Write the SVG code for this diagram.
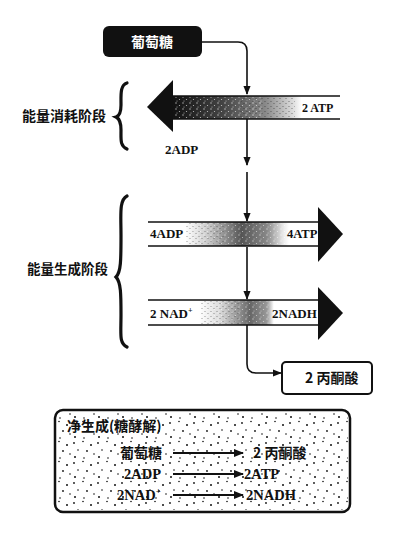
<svg xmlns="http://www.w3.org/2000/svg" width="408" height="535" viewBox="0 0 408 535">
<defs>
<style>
.cn{font-family:"Noto Sans CJK SC","Noto Sans",sans-serif;font-weight:bold;fill:#111}
.lt{font-family:"Liberation Serif","DejaVu Serif",serif;font-weight:bold;fill:#111}
.conn{fill:none;stroke:#111;stroke-width:1.6}
.sconn{fill:none;stroke:#111;stroke-width:2}
.brace{fill:none;stroke:#111;stroke-width:3.2;stroke-linecap:round}
.edge{stroke:#111;stroke-width:1.5}
</style>
<marker id="ah2" viewBox="0 0 10 10" refX="9" refY="5" markerWidth="9" markerHeight="9" orient="auto" markerUnits="userSpaceOnUse">
<path d="M0,1 L10,5 L0,9 Z" fill="#111"/>
</marker>
<marker id="ah3" viewBox="0 0 10 10" refX="9" refY="5" markerWidth="12" markerHeight="10" orient="auto" markerUnits="userSpaceOnUse">
<path d="M0,1 L10,5 L0,9 Z" fill="#111"/>
</marker>
<linearGradient id="g1" x1="173" y1="0" x2="340" y2="0" gradientUnits="userSpaceOnUse">
<stop offset="0" stop-color="#111"/>
<stop offset="0.3" stop-color="#444"/>
<stop offset="0.55" stop-color="#888"/>
<stop offset="0.72" stop-color="#ddd"/>
<stop offset="0.77" stop-color="#fff"/>
<stop offset="1" stop-color="#fff"/>
</linearGradient>
<linearGradient id="g2" x1="148" y1="0" x2="318" y2="0" gradientUnits="userSpaceOnUse">
<stop offset="0" stop-color="#fff"/>
<stop offset="0.22" stop-color="#fff"/>
<stop offset="0.35" stop-color="#ccc"/>
<stop offset="0.55" stop-color="#555"/>
<stop offset="0.7" stop-color="#888"/>
<stop offset="0.8" stop-color="#eee"/>
<stop offset="0.83" stop-color="#fff"/>
<stop offset="1" stop-color="#fff"/>
</linearGradient>
<linearGradient id="g3" x1="148" y1="0" x2="318" y2="0" gradientUnits="userSpaceOnUse">
<stop offset="0" stop-color="#fff"/>
<stop offset="0.3" stop-color="#fff"/>
<stop offset="0.42" stop-color="#ddd"/>
<stop offset="0.6" stop-color="#666"/>
<stop offset="0.7" stop-color="#999"/>
<stop offset="0.74" stop-color="#fff"/>
<stop offset="1" stop-color="#fff"/>
</linearGradient>
<pattern id="ws" width="7" height="6" patternUnits="userSpaceOnUse">
<circle cx="1" cy="1" r="0.7" fill="#fff"/>
<circle cx="4.5" cy="3.5" r="0.6" fill="#fff"/>
<circle cx="2" cy="5" r="0.5" fill="#fff"/>
</pattern>
<pattern id="bs" width="6" height="5" patternUnits="userSpaceOnUse">
<circle cx="1" cy="1.5" r="0.6" fill="#222"/>
<circle cx="4" cy="3.5" r="0.6" fill="#222"/>
</pattern>
<pattern id="dots" width="24" height="20" patternUnits="userSpaceOnUse">
<circle cx="2" cy="3" r="0.9" fill="#111"/>
<circle cx="11" cy="1.5" r="0.8" fill="#111"/>
<circle cx="19" cy="5" r="1" fill="#111"/>
<circle cx="6" cy="10" r="0.8" fill="#111"/>
<circle cx="15" cy="11" r="0.9" fill="#111"/>
<circle cx="22" cy="14" r="0.8" fill="#111"/>
<circle cx="3" cy="17" r="1" fill="#111"/>
<circle cx="12" cy="18" r="0.8" fill="#111"/>
</pattern>
</defs>
<rect width="408" height="535" fill="#fff"/>

<g id="connectors">
<path class="conn" d="M202,42 L238,42 Q247,42 247,51 L247,94" marker-end="url(#ah2)"/>
<path class="conn" d="M247,119 L247,165" marker-end="url(#ah2)"/>
<path class="conn" d="M247,172 L247,221" marker-end="url(#ah2)"/>
<path class="conn" d="M247,247 L247,299" marker-end="url(#ah2)"/>
<path class="conn" d="M247,325 L247,364 Q247,373 256,373 L281,373" marker-end="url(#ah2)"/>
</g>

<g id="glucose">
<rect x="103" y="26" width="99" height="31" rx="6" fill="#111"/>
<text class="cn" x="152" y="47" font-size="14" text-anchor="middle" style="fill:#fff">葡萄糖</text>
</g>

<g id="stage1-label">
<text class="cn" x="22" y="121" font-size="14">能量消耗阶段</text>
<path class="brace" d="M127,83 C120,85 121,95 121,105 C121,112 120,116 116,117 C120,119 121,123 121,130 C121,140 120,146 127,149"/>
</g>

<g id="stage2-label">
<text class="cn" x="27" y="274" font-size="13.5">能量生成阶段</text>
<path class="brace" d="M127,196 C119,200 121,215 121,235 C121,260 121,272 116,277 C121,282 121,295 121,315 C121,335 119,343 127,347"/>
</g>

<g id="arrow-consume">
<rect x="172" y="96" width="168" height="23" fill="url(#g1)"/>
<rect x="172" y="97" width="90" height="21" fill="url(#ws)" opacity="0.7"/>
<rect x="240" y="97" width="55" height="21" fill="url(#bs)" opacity="0.6"/>
<path d="M147,107 L173,80 L173,132 Z" fill="#111"/>
<line class="edge" x1="172" y1="96" x2="340" y2="96"/>
<line class="edge" x1="172" y1="119" x2="340" y2="119"/>
<text class="lt" x="302" y="112" font-size="12">2 ATP</text>
<text class="lt" x="165" y="154" font-size="13">2ADP</text>
</g>

<g id="arrow-atp">
<rect x="148" y="222" width="170" height="24" fill="url(#g2)"/>
<rect x="185" y="223" width="100" height="22" fill="url(#ws)" opacity="0.6"/>
<rect x="185" y="223" width="40" height="22" fill="url(#bs)" opacity="0.5"/>
<path d="M318,207 L343,234 L318,262 Z" fill="#111"/>
<line class="edge" x1="148" y1="222" x2="318" y2="222"/>
<line class="edge" x1="148" y1="246" x2="318" y2="246"/>
<text class="lt" x="150" y="238" font-size="13">4ADP</text>
<text class="lt" x="287" y="238" font-size="12.5">4ATP</text>
</g>

<g id="arrow-nadh">
<rect x="148" y="300" width="170" height="25" fill="url(#g3)"/>
<rect x="200" y="301" width="70" height="23" fill="url(#ws)" opacity="0.6"/>
<rect x="200" y="301" width="40" height="23" fill="url(#bs)" opacity="0.5"/>
<path d="M318,287 L343,313 L318,340 Z" fill="#111"/>
<line class="edge" x1="148" y1="300" x2="318" y2="300"/>
<line class="edge" x1="148" y1="325" x2="318" y2="325"/>
<text class="lt" x="150" y="318" font-size="13">2 NAD<tspan font-size="8" dy="-5">+</tspan></text>
<text class="lt" x="272" y="318" font-size="13">2NADH</text>
</g>

<g id="pyruvate">
<rect x="282" y="362" width="90" height="32" rx="4" fill="#fff" stroke="#111" stroke-width="2"/>
<text class="cn" x="305" y="383" font-size="14">2 丙酮酸</text>
</g>

<g id="summary">
<rect x="55" y="410" width="295" height="102" rx="8" fill="#fff" stroke="#111" stroke-width="2.5"/>
<rect x="57" y="412" width="291" height="98" rx="7" fill="url(#dots)"/>
<text class="cn" x="67" y="431" font-size="14">净生成(糖酵解)</text>
<text class="cn" x="120" y="458" font-size="14">葡萄糖</text>
<line class="sconn" x1="173" y1="453" x2="243" y2="453" marker-end="url(#ah3)"/>
<text class="cn" x="253" y="458" font-size="14">2 丙酮酸</text>
<text class="lt" x="124" y="479" font-size="14.5">2ADP</text>
<line class="sconn" x1="173" y1="474" x2="243" y2="474" marker-end="url(#ah3)"/>
<text class="lt" x="244" y="479" font-size="14.5">2ATP</text>
<text class="lt" x="117" y="500" font-size="14.5">2NAD<tspan font-size="9" dy="-6">+</tspan></text>
<line class="sconn" x1="173" y1="495" x2="243" y2="495" marker-end="url(#ah3)"/>
<text class="lt" x="246" y="500" font-size="14.5">2NADH</text>
</g>
</svg>
